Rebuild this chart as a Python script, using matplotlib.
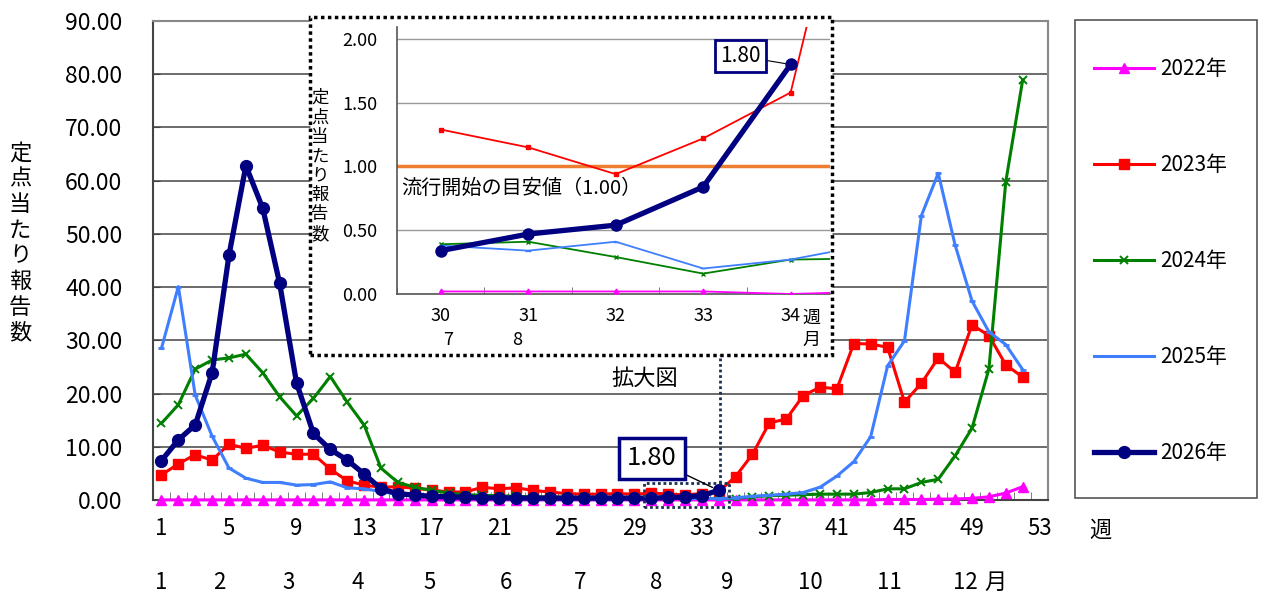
import numpy as np
import matplotlib
matplotlib.use("Agg")
import matplotlib.pyplot as plt
from matplotlib.patches import Rectangle

plt.rcParams['font.family'] = ['Noto Sans CJK JP', 'DejaVu Sans']

# 週別 定点当たり報告数
weeks = list(range(1, 53))
v2022 = [0.02] * 33 + [0.0] + [0.02] * 9 + [0.1, 0.1, 0.1, 0.15, 0.2, 0.3, 0.6, 1.3, 2.5]
v2023 = [4.7, 6.8, 8.5, 7.5, 10.5, 9.7, 10.3, 9.0, 8.6, 8.6, 5.8, 3.6, 2.8, 2.4, 2.5,
         2.2, 1.9, 1.5, 1.5, 2.4, 2.1, 2.3, 1.8, 1.5, 1.2, 1.1, 1.1, 1.2, 1.1, 1.29,
         1.15, 0.94, 1.22, 1.58, 4.4, 8.6, 14.5, 15.2, 19.6, 21.2, 20.9, 29.4, 29.3, 28.7,
         18.4, 21.9, 26.7, 24.0, 32.9, 30.9, 25.4, 23.1]
v2024 = [14.4, 17.9, 24.6, 26.3, 26.7, 27.4, 23.9, 19.4, 15.8, 19.1, 23.2, 18.4, 14.1, 6.0,
         3.3, 2.4, 1.8, 1.3, 1.0, 0.9, 0.8, 0.7, 0.6, 0.6, 0.5, 0.5, 0.45, 0.42, 0.40, 0.39,
         0.41, 0.29, 0.16, 0.27, 0.28, 0.6, 0.8, 0.9, 1.0, 1.1, 1.1, 1.1, 1.4, 2.1, 2.1, 3.3,
         3.9, 8.3, 13.5, 24.6, 59.8, 78.9]
v2025 = [28.5, 40.1, 19.7, 12.0, 6.0, 4.1, 3.3, 3.3, 2.8, 2.9, 3.4, 2.3, 2.1, 1.6, 1.0,
         0.8, 0.7, 0.6, 0.55, 0.5, 0.5, 0.45, 0.45, 0.4, 0.4, 0.4, 0.4, 0.4, 0.4, 0.38,
         0.34, 0.41, 0.20, 0.27, 0.40, 0.7, 0.9, 1.1, 1.4, 2.4, 4.5, 7.2, 11.9, 25.2, 29.9,
         53.4, 61.4, 47.9, 37.4, 31.6, 29.2, 24.5]
weeks2026 = list(range(1, 35))
v2026 = [7.4, 11.3, 14.1, 23.9, 46.0, 62.8, 54.8, 40.7, 22.0, 12.5, 9.5, 7.5, 4.9, 2.1,
         1.2, 0.9, 0.7, 0.6, 0.5, 0.4, 0.4, 0.35, 0.35, 0.35, 0.35, 0.35, 0.35, 0.35, 0.35,
         0.34, 0.47, 0.54, 0.84, 1.80]
threshold = 1.00
zoom_from = 30  # 拡大図の開始週

week_ticks = list(range(1, 54, 4))
month_labels = ['1', '2', '3', '4', '5', '6', '7', '8', '9', '10', '11', '12']
month_label_weeks = [1, 4.4, 8.5, 12.6, 16.9, 21.4, 25.8, 30.3, 34.5, 39.4, 44.1, 48.6]

W, H = 1263, 609
fx = lambda p: p / W
fy = lambda p: 1 - p / H

fig = plt.figure(figsize=(W / 100, H / 100), dpi=100)

# ---- main chart ----
ax = fig.add_axes([fx(153), fy(500), fx(1048) - fx(153), fy(21) - fy(500)])
ax.set_xlim(0.5, 53.5)
ax.set_ylim(0, 90)
ax.set_yticks(np.arange(0, 91, 10))
ax.set_yticklabels([f"{t:.2f}" for t in np.arange(0, 91, 10)], fontsize=16.5)
ax.set_xticks(week_ticks)
ax.set_xticklabels([str(w) for w in week_ticks], fontsize=16)
ax.set_xticks(np.arange(0.5, 54, 1), minor=True)
ax.tick_params(axis='x', which='major', length=0, pad=12)
ax.tick_params(axis='x', which='minor', direction='in', length=6, color='#666')
ax.tick_params(axis='y', direction='in', length=5, pad=22, color='#444')
ax.grid(axis='y', color='#444', lw=1.1)
for s in ['left', 'bottom']:
    ax.spines[s].set_color('#444')
    ax.spines[s].set_linewidth(1.5)
for s in ['top', 'right']:
    ax.spines[s].set_color('#888')
    ax.spines[s].set_linewidth(1.5)

l22, = ax.plot(weeks, v2022, color='#FF00FF', lw=2.2, marker='^', ms=6.5, label='2022年', clip_on=False, zorder=3)
l23, = ax.plot(weeks, v2023, color='#FF0000', lw=2.2, marker='s', ms=6.5, label='2023年', zorder=3)
l24, = ax.plot(weeks, v2024, color='#008000', lw=2.2, marker='x', ms=6, mew=1.4, label='2024年', zorder=3)
l25, = ax.plot(weeks, v2025, color='#3F7FFF', lw=2.2, marker='_', ms=5, mew=2, label='2025年', zorder=3)
l26, = ax.plot(weeks2026, v2026, color='#000080', lw=3.8, marker='o', ms=8.5, label='2026年', clip_on=False, zorder=4)

for w, m in zip(month_label_weeks, month_labels):
    ax.text(w, -0.173, m, transform=ax.get_xaxis_transform(), ha='center', va='center', fontsize=16)
ax.text(50.4, -0.173, '月', transform=ax.get_xaxis_transform(), ha='center', va='center', fontsize=16)
ax.text(56.6, -0.063, '週', transform=ax.get_xaxis_transform(), ha='center', va='center', fontsize=16)

fig.text(fx(20), fy(243), '\n'.join('定点当たり報告数'), ha='center', va='center', fontsize=16, linespacing=1.15)

ax.annotate(f"{v2026[-1]:.2f}", xy=(weeks2026[-1], v2026[-1]), xytext=(-48, 23),
            textcoords='offset points', ha='center', va='center', fontsize=18.5,
            bbox=dict(boxstyle='square,pad=0.3', fc='white', ec='#000080', lw=2.5),
            arrowprops=dict(arrowstyle='-', color='black', lw=1, shrinkA=0, shrinkB=5), zorder=6)

# zoomed area marker
ax.add_patch(Rectangle((zoom_from - 0.4, -1.4), 5.0, 4.6, fill=False, ec='#1a3050',
                       ls=(0, (1, 1)), lw=2, clip_on=False, zorder=5))
ax.plot([34.1, 34.1], [3.2, 27.5], color='#1a3050', ls=(0, (1, 1)), lw=2, clip_on=False, zorder=5)
ax.text(0.5497, 0.2547, '拡大図', transform=ax.transAxes, ha='center', va='center', fontsize=16)

# ---- inset (enlarged view) ----
box = fig.add_axes([fx(310), fy(355), fx(832) - fx(310), fy(17) - fy(355)])
box.axis('off')
box.add_patch(Rectangle((0, 0), 1, 1, transform=box.transAxes, fc='white', ec='black',
                        ls=(0, (1, 1)), lw=2.5, clip_on=False))

ins = fig.add_axes([fx(397), fy(294), fx(830) - fx(397), fy(27) - fy(294)])
ins.patch.set_alpha(0)
ins.set_xlim(29.5, 34.45)
ins.set_ylim(0, 2.094)
yt = [0, 0.5, 1.0, 1.5, 2.0]
ins.set_yticks(yt)
ins.set_yticklabels([f"{t:.2f}" for t in yt], fontsize=13)
ins.set_xticks([30, 31, 32, 33, 34])
ins.set_xticklabels(['30', '31', '32', '33', '34'], fontsize=13)
ins.set_xticks(np.arange(29.5, 34.5, 1), minor=True)
ins.tick_params(axis='x', which='major', length=0, pad=9)
ins.tick_params(axis='x', which='minor', direction='in', length=5, color='#666')
ins.tick_params(axis='y', length=0, pad=14)
ins.grid(axis='y', color='#999', lw=1)
for s in ['top', 'right']:
    ins.spines[s].set_visible(False)
for s in ['left', 'bottom']:
    ins.spines[s].set_color('#555')
    ins.spines[s].set_linewidth(1.2)

i0 = zoom_from - 1
ins.axhline(threshold, color='#ED7D31', lw=2.5, zorder=2)
ins.plot(weeks[i0:], v2022[i0:], color='#FF00FF', lw=1.3, marker='^', ms=3.5, zorder=3)
ins.plot(weeks[i0:], v2023[i0:], color='#FF0000', lw=1.3, marker='s', ms=3.5, zorder=3)
ins.plot(weeks[i0:], v2024[i0:], color='#008000', lw=1.3, marker='x', ms=3.5, zorder=3)
ins.plot(weeks[i0:], v2025[i0:], color='#3F7FFF', lw=1.3, marker='_', ms=4, zorder=3)
ins.plot(weeks2026[i0:], v2026[i0:], color='#000080', lw=3.8, marker='o', ms=8, zorder=4)
ins.text(29.55, 0.83, f'流行開始の目安値（{threshold:.2f}）', fontsize=14.5, ha='left', va='center')
ins.annotate(f"{v2026[-1]:.2f}", xy=(weeks2026[-1], v2026[-1]), xytext=(-36, 6),
             textcoords='offset points', ha='center', va='center', fontsize=15,
             bbox=dict(boxstyle='square,pad=0.25', fc='white', ec='#000080', lw=2),
             arrowprops=dict(arrowstyle='-', color='black', lw=0.8, shrinkA=0, shrinkB=4), zorder=6)
ins.text(0.958, -0.09, '週', transform=ins.transAxes, ha='center', va='center', fontsize=13)
ins.text(0.958, -0.172, '月', transform=ins.transAxes, ha='center', va='center', fontsize=13)
ins.text(30.08, -0.172, '7', transform=ins.get_xaxis_transform(), ha='center', va='center', fontsize=13)
ins.text(30.87, -0.172, '8', transform=ins.get_xaxis_transform(), ha='center', va='center', fontsize=13)
fig.text(fx(320), fy(166), '\n'.join('定点当たり報告数'), ha='center', va='center', fontsize=12.5, linespacing=1.1)

# ---- legend ----
fig.patches.append(Rectangle((fx(1075), fy(498)), fx(1257) - fx(1075), fy(20) - fy(498),
                             transform=fig.transFigure, fill=False, ec='#555', lw=1.2))
fig.legend([l22, l23, l24, l25, l26], ['2022年', '2023年', '2024年', '2025年', '2026年'],
           loc='upper left', bbox_to_anchor=(fx(1094), fy(58)), frameon=False, fontsize=15,
           handlelength=2.9, handletextpad=0.3, labelspacing=3.55, borderaxespad=0, borderpad=0)

fig.savefig('out.png', dpi=100)
